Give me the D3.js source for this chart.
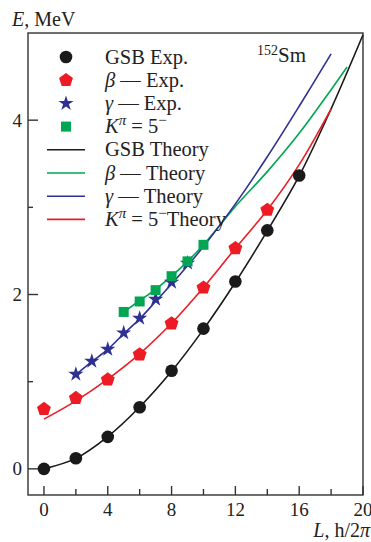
<!DOCTYPE html>
<html>
<head>
<meta charset="utf-8">
<script src="https://cdn.jsdelivr.net/npm/d3@7"></script>
<style>
  body { margin: 0; background: #fff; }
  svg text { font-family: "Liberation Serif", "Times New Roman", serif; fill: #222; }
</style>
</head>
<body>
<svg id="chart" width="371" height="542"></svg>
<script>
// experimental levels, 152Sm
const gsbL = [0, 2, 4, 6, 8, 10, 12, 14, 16];
const gsbE = [0, 0.122, 0.367, 0.707, 1.125, 1.609, 2.149, 2.736, 3.365];
const betaL = [0, 2, 4, 6, 8, 10, 12, 14];
const betaE = [0.685, 0.811, 1.023, 1.311, 1.666, 2.078, 2.53, 2.97];
const gammaL = [2, 3, 4, 5, 6, 7, 8, 9];
const gammaE = [1.086, 1.234, 1.371, 1.56, 1.728, 1.946, 2.14, 2.36];
const kL = [5, 6, 7, 8, 9, 10];
const kE = [1.8, 1.92, 2.05, 2.21, 2.38, 2.57];

// theory curves
const gsbThL = [0, 2, 4, 6, 8, 10, 12, 14, 16, 18, 20];
const gsbThE = [0, 0.12, 0.37, 0.71, 1.12, 1.6, 2.14, 2.73, 3.36, 4.13, 4.98];
const redThL = [0, 2, 4, 6, 8, 10, 12, 14, 16, 18];
const redThE = [0.57, 0.78, 1.03, 1.32, 1.67, 2.08, 2.53, 2.97, 3.49, 4.13];
const greenThL = [5, 6, 7, 8, 9, 10, 12, 14, 16, 18, 19];
const greenThE = [1.8, 1.93, 2.06, 2.21, 2.38, 2.57, 3.01, 3.41, 3.85, 4.35, 4.61];
const blueThL = [2, 3, 4, 5, 6, 7, 8, 9, 10, 12, 14, 16, 18];
const blueThE = [1.08, 1.23, 1.37, 1.55, 1.72, 1.92, 2.12, 2.33, 2.55, 3.04, 3.58, 4.16, 4.76];

const xMajor = [0, 4, 8, 12, 16, 20];
const xMinor = [2, 6, 10, 14, 18];
const yMajor = [0, 2, 4];
const yMinor = [1, 3];

const BLACK = '#1a1a1a', RED = '#ed1c24', GREEN = '#00a651', BLUE = '#2e3192';

const svg = d3.select('#chart');
const x = d3.scaleLinear().domain([-1, 20]).range([28, 363]);
const y = d3.scaleLinear().domain([-0.3, 5]).range([495, 33]);

const zip = (a, b) => a.map((v, i) => [v, b[i]]);

// frame
svg.append('rect')
  .attr('x', x(-1)).attr('y', y(5))
  .attr('width', x(20) - x(-1)).attr('height', y(-0.3) - y(5))
  .attr('fill', 'none').attr('stroke', '#333').attr('stroke-width', 1.4);

// ticks
const tk = svg.append('g').attr('stroke', '#333').attr('stroke-width', 1.4);
xMajor.forEach(v => tk.append('line').attr('x1', x(v)).attr('x2', x(v)).attr('y1', y(-0.3)).attr('y2', y(-0.3) - 9));
xMinor.forEach(v => tk.append('line').attr('x1', x(v)).attr('x2', x(v)).attr('y1', y(-0.3)).attr('y2', y(-0.3) - 6));
yMajor.forEach(v => tk.append('line').attr('y1', y(v)).attr('y2', y(v)).attr('x1', x(-1)).attr('x2', x(-1) + 10));
yMinor.forEach(v => tk.append('line').attr('y1', y(v)).attr('y2', y(v)).attr('x1', x(-1)).attr('x2', x(-1) + 5));

svg.append('g').selectAll('text').data(xMajor).join('text')
  .attr('x', d => x(d)).attr('y', 516)
  .attr('text-anchor', 'middle').attr('font-size', 19)
  .text(d => d);
svg.append('g').selectAll('text').data(yMajor).join('text')
  .attr('x', 22).attr('y', d => y(d) + 6.5)
  .attr('text-anchor', 'end').attr('font-size', 19)
  .text(d => d);

// axis titles
const et = svg.append('text').attr('x', 12).attr('y', 26).attr('font-size', 20);
et.append('tspan').attr('font-style', 'italic').text('E');
et.append('tspan').text(', MeV');
const lt = svg.append('text').attr('x', 370).attr('y', 537).attr('font-size', 20).attr('text-anchor', 'end');
lt.append('tspan').attr('font-style', 'italic').text('L');
lt.append('tspan').text(', h/2');
lt.append('tspan').attr('font-style', 'italic').text('π');

// nucleus label
const sm = svg.append('text').attr('x', 257).attr('y', 62).attr('font-size', 21);
sm.append('tspan').attr('font-size', 14).attr('dy', -7).text('152');
sm.append('tspan').attr('dy', 7).text('Sm');

// theory lines
const line = d3.line().x(d => x(d[0])).y(d => y(d[1])).curve(d3.curveCatmullRom.alpha(0.5));
const theories = [
  [zip(gsbThL, gsbThE), BLACK],
  [zip(redThL, redThE), RED],
  [zip(greenThL, greenThE), GREEN],
  [zip(blueThL, blueThE), BLUE]
];
theories.forEach(([pts, c]) => {
  svg.append('path').attr('d', line(pts)).attr('fill', 'none')
    .attr('stroke', c).attr('stroke-width', 1.6);
});

// markers
const pentagon = r => {
  const p = d3.range(5).map(i => {
    const a = -Math.PI / 2 + i * 2 * Math.PI / 5;
    return [r * Math.cos(a), r * Math.sin(a)];
  });
  return 'M' + p.join('L') + 'Z';
};
const circleSym = d3.symbol(d3.symbolCircle, 125)();
const starSym = d3.symbol(d3.symbolStar, 72)();
const squareSym = d3.symbol(d3.symbolSquare, 100)();
const pentSym = pentagon(7.3);

const drawPts = (pts, sym, c) => {
  svg.append('g').selectAll('path').data(pts).join('path')
    .attr('d', sym)
    .attr('transform', d => `translate(${x(d[0])},${y(d[1])})`)
    .attr('fill', c);
};
drawPts(zip(gsbL, gsbE), circleSym, BLACK);
drawPts(zip(betaL, betaE), pentSym, RED);
drawPts(zip(gammaL, gammaE), starSym, BLUE);
drawPts(zip(kL, kE), squareSym, GREEN);

// legend
const legendY = d3.range(8).map(i => 57 + i * 23.2);
const leg = svg.append('g');
const marks = [[circleSym, BLACK], [pentSym, RED], [starSym, BLUE], [squareSym, GREEN]];
marks.forEach(([s, c], i) => {
  leg.append('path').attr('d', s).attr('fill', c).attr('transform', `translate(66,${legendY[i]})`);
});
[BLACK, GREEN, BLUE, RED].forEach((c, i) => {
  leg.append('line').attr('x1', 47).attr('x2', 85)
    .attr('y1', legendY[i + 4]).attr('y2', legendY[i + 4])
    .attr('stroke', c).attr('stroke-width', 1.6);
});

const labelParts = [
  [['GSB Exp.', '']],
  [['β', 'i'], [' \u2014 Exp.', '']],
  [['γ', 'i'], [' \u2014 Exp.', '']],
  [['K', 'i'], ['π', 'sup'], [' = 5', ''], ['\u2212', 'sup']],
  [['GSB Theory', '']],
  [['β', 'i'], [' \u2014 Theory', '']],
  [['γ', 'i'], [' \u2014 Theory', '']],
  [['K', 'i'], ['π', 'sup'], [' = 5', ''], ['\u2212', 'sup'], ['Theory', '']]
];
labelParts.forEach((parts, i) => {
  const t = leg.append('text').attr('x', 105).attr('y', legendY[i] + 6.5).attr('font-size', 20.5);
  let raised = false;
  parts.forEach(([s, k]) => {
    const ts = t.append('tspan').text(s);
    if (k === 'i') ts.attr('font-style', 'italic');
    if (k === 'sup') {
      ts.attr('font-size', 15).attr('dy', raised ? 0 : -8);
      if (s === 'π') ts.attr('font-style', 'italic');
      raised = true;
    } else if (raised) {
      ts.attr('dy', 8);
      raised = false;
    }
  });
});
</script>
</body>
</html>
